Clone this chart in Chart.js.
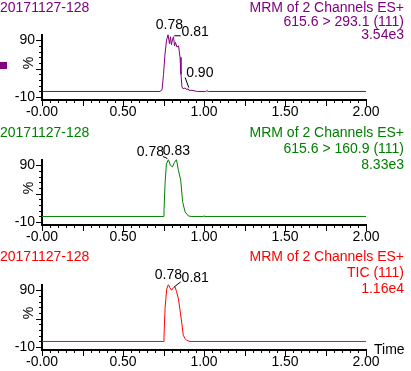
<!DOCTYPE html>
<html>
<head>
<meta charset="utf-8">
<script src="https://cdn.jsdelivr.net/npm/chart.js@4.4.0/dist/chart.umd.min.js"></script>
<style>
html, body { margin: 0; padding: 0; background: #fff; }
#wrap { position: relative; width: 411px; height: 371px; overflow: hidden; }
canvas { position: absolute; left: 0; }
</style>
</head>
<body>
<div id="wrap">
  <canvas id="c1" width="411" height="125" style="top:0"></canvas>
  <canvas id="c2" width="411" height="125" style="top:125px"></canvas>
  <canvas id="c3" width="411" height="121" style="top:250px"></canvas>
</div>
<script>
const sampleName = '20171127-128';
const channelTitle = 'MRM of 2 Channels ES+';
const timeTicks = [0, 0.5, 1.0, 1.5, 2.0];
const percentTicks = [-10, 90];

// trace 1: 615.6 > 293.1
const trace1Time = [0, 0.728, 0.741, 0.75, 0.759, 0.769, 0.778, 0.787, 0.793, 0.799, 0.806, 0.812, 0.818, 0.824, 0.833, 0.843, 0.852, 0.858, 0.864, 0.87, 0.883, 0.895, 0.90, 0.907, 0.926, 0.95, 0.96, 1.01, 1.018, 1.026, 2.0];
const trace1Value = [0, 0, 3, 30, 65, 90, 100, 84, 96, 82, 92, 96, 80, 86, 78, 80, 60, 30, 8, 5, 6, 3, 5, 2, 2, 0.5, 0, 0, 1.5, 0, 0];
const trace1Peaks = [0.78, 0.81, 0.90];

// trace 2: 615.6 > 160.9
const trace2Time = [0, 0.748, 0.753, 0.76, 0.768, 0.78, 0.792, 0.805, 0.818, 0.83, 0.842, 0.856, 0.868, 0.883, 0.903, 0.92, 0.995, 1.0, 1.005, 2.0];
const trace2Value = [0, 0, 10, 60, 92, 100, 90, 87, 95, 100, 81, 64, 26, 8, 1, 0, 0, 1, 0, 0];
const trace2Peaks = [0.78, 0.83];

// trace 3: TIC
const trace3Time = [0, 0.748, 0.753, 0.76, 0.77, 0.78, 0.79, 0.80, 0.81, 0.821, 0.83, 0.842, 0.852, 0.862, 0.872, 0.883, 0.893, 0.914, 2.0];
const trace3Value = [0, 0, 8, 60, 92, 100, 94, 90, 94, 96, 88, 75, 55, 34, 11, 5, 2, 0, 0];
const trace3Peaks = [0.78, 0.81];

const FONT = '14px Arial, "Liberation Sans", sans-serif';

const panels = [
    { id: 'c1', color: '#800080', time: trace1Time, value: trace1Value, peaks: trace1Peaks,
      offsets: [[1, -9], [22, -5], [12, -15]], lines: [channelTitle, '615.6 > 293.1 (111)', '3.54e3'],
      lineY: [8, 22, 35], marker: true },
    { id: 'c2', color: '#008000', time: trace2Time, value: trace2Value, peaks: trace2Peaks,
      offsets: [[-18, -7], [0, -8]], lines: [channelTitle, '615.6 > 160.9 (111)', '8.33e3'],
      lineY: [8, 24, 40] },
    { id: 'c3', color: '#ff0000', time: trace3Time, value: trace3Value, peaks: trace3Peaks,
      offsets: [[0, -9], [22, -10]], lines: [channelTitle, 'TIC (111)', '1.16e4'],
      lineY: [7, 23, 39], timeLabel: true }
];

const decorPlugin = {
    id: 'decor',
    afterDraw(chart) {
        const p = chart.config.options.plugins.decor;
        const { ctx, chartArea } = chart;
        const x = chart.scales.x, y = chart.scales.y;
        ctx.save();
        ctx.strokeStyle = '#000';
        ctx.lineWidth = 1;
        // x minor / major ticks
        for (let i = 0; i <= 40; i++) {
            const px = Math.round(x.getPixelForValue(i * 0.05)) + 0.5;
            const len = i % 5 === 0 ? 6 : 3;
            ctx.beginPath();
            ctx.moveTo(px, chartArea.bottom);
            ctx.lineTo(px, chartArea.bottom + len);
            ctx.stroke();
        }
        // y minor / major ticks
        for (let i = 0; i <= 10; i++) {
            const py = Math.round(y.getPixelForValue(-10 + i * 10)) + 0.5;
            const len = i % 5 === 0 ? 6 : 3;
            ctx.beginPath();
            ctx.moveTo(chartArea.left, py);
            ctx.lineTo(chartArea.left - len, py);
            ctx.stroke();
        }
        ctx.font = FONT;
        ctx.textBaseline = 'middle';
        // % label
        ctx.save();
        ctx.translate(29, y.getPixelForValue(50));
        ctx.rotate(-Math.PI / 2);
        ctx.textAlign = 'center';
        ctx.fillStyle = '#000';
        ctx.fillText('%', 0, 0);
        ctx.restore();
        // titles
        ctx.fillStyle = p.color;
        ctx.textAlign = 'left';
        ctx.fillText(sampleName, 0, p.lineY[0]);
        ctx.textAlign = 'right';
        p.lines.forEach((t, i) => ctx.fillText(t, 404, p.lineY[i]));
        if (p.marker) {
            ctx.fillRect(0, 62, 7, 7);
        }
        ctx.fillStyle = '#000';
        if (p.timeLabel) {
            ctx.textAlign = 'left';
            ctx.fillText('Time', 374, chartArea.bottom);
        }
        // peak labels
        ctx.textAlign = 'center';
        p.peaks.forEach((t, i) => {
            let best = 0;
            p.time.forEach((tt, j) => { if (Math.abs(tt - t) < Math.abs(p.time[best] - t)) best = j; });
            const px = x.getPixelForValue(t);
            const py = y.getPixelForValue(p.value[best]);
            const [dx, dy] = p.offsets[i];
            const text = t.toFixed(2);
            const cx = px + dx, cy = py + dy;
            ctx.fillText(text, cx, cy);
            if (Math.abs(dx) > 3) {
                const w = ctx.measureText(text).width;
                const ex = dx > 0 ? cx - w / 2 - 1 : cx + w / 2 - 1;
                ctx.beginPath();
                ctx.moveTo(px + (dx > 0 ? 1 : -1), py - 1);
                ctx.lineTo(ex, cy + 4);
                ctx.stroke();
            }
        });
        ctx.restore();
    }
};

panels.forEach(p => {
    const canvas = document.getElementById(p.id);
    const h = canvas.height;
    new Chart(canvas, {
        type: 'line',
        data: {
            datasets: [{
                data: p.time.map((t, i) => ({ x: t, y: p.value[i] })),
                borderColor: p.color,
                borderWidth: 1,
                pointRadius: 0,
                tension: 0,
                fill: false
            }]
        },
        options: {
            responsive: false,
            animation: false,
            layout: { padding: { top: 34.5, right: 45, left: 0, bottom: 0 } },
            plugins: {
                legend: { display: false },
                tooltip: { enabled: false },
                decor: p
            },
            scales: {
                x: {
                    type: 'linear', min: 0, max: 2,
                    grid: { display: false, drawTicks: false },
                    border: { display: true, color: '#000', width: 2 },
                    afterBuildTicks: s => { s.ticks = timeTicks.map(v => ({ value: v })); },
                    afterFit: s => { s.height = h - 100; },
                    ticks: {
                        autoSkip: false, maxRotation: 0, padding: 4, color: '#000',
                        font: { family: 'Arial, "Liberation Sans", sans-serif', size: 14 },
                        callback: v => v === 0 ? '-0.00' : Number(v).toFixed(2)
                    }
                },
                y: {
                    min: -15, max: 100,
                    grid: { display: false, drawTicks: false },
                    border: { display: true, color: '#000', width: 2 },
                    afterBuildTicks: s => { s.ticks = percentTicks.map(v => ({ value: v })); },
                    afterFit: s => { s.width = 42; },
                    ticks: {
                        padding: 7, color: '#000',
                        font: { family: 'Arial, "Liberation Sans", sans-serif', size: 14 },
                        callback: v => String(v)
                    }
                }
            }
        },
        plugins: [decorPlugin]
    });
});
</script>
</body>
</html>
